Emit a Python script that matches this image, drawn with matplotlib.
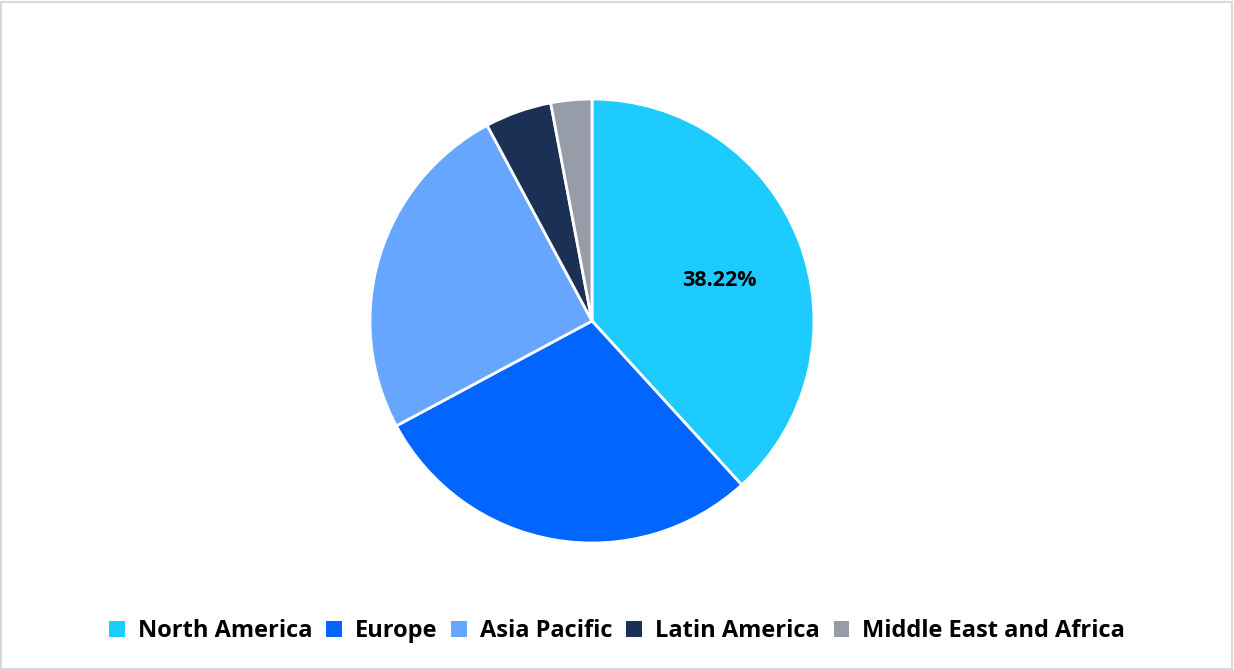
import matplotlib
matplotlib.use("Agg")
import matplotlib.pyplot as plt
from matplotlib.patches import Patch, Rectangle
import numpy as np

categories = ["North America", "Europe", "Asia Pacific", "Latin America", "Middle East and Africa"]
shares = [38.22, 28.95, 25.0, 4.85, 2.98]
colors = ["#1ECBFE", "#0066FF", "#66A6FF", "#1C2F54", "#969CA8"]
shown_label = "38.22%"

W, H = 1234, 670
fig = plt.figure(figsize=(W / 100, H / 100), dpi=100)
fig.patch.set_facecolor("white")

# border
fig.add_artist(Rectangle((1 / W, 1 / H), (W - 3) / W, (H - 3) / H, transform=fig.transFigure,
                         fill=False, edgecolor="#D9D9D9", linewidth=1.5))

cx, cy, r = 592, 321, 222
ax = fig.add_axes([(cx - r) / W, (H - cy - r) / H, 2 * r / W, 2 * r / H])
wedges, texts = ax.pie(shares, colors=colors, startangle=90, counterclock=False,
                       wedgeprops=dict(edgecolor="white", linewidth=2), radius=1)
ax.set_xlim(-1, 1)
ax.set_ylim(-1, 1)
ax.set_aspect("equal")
ax.axis("off")

# data label for largest slice
w0 = wedges[0]
mid = np.deg2rad((w0.theta1 + w0.theta2) / 2 - 3.7)
ax.text(0.6 * np.cos(mid), 0.6 * np.sin(mid), shown_label, ha="center", va="center",
        fontsize=15.5, fontweight="bold", family="Open Sans", color="black")

handles = [Patch(facecolor=c, edgecolor="none") for c in colors]
fig.legend(handles, categories, loc="center", bbox_to_anchor=(617 / W, 1 - 631 / H), ncol=5,
           frameon=False, prop=dict(family="Open Sans", weight="bold", size=17),
           handlelength=0.65, handleheight=0.65, handletextpad=0.55, columnspacing=0.6)

fig.savefig("out.png", dpi=100, facecolor="white")
